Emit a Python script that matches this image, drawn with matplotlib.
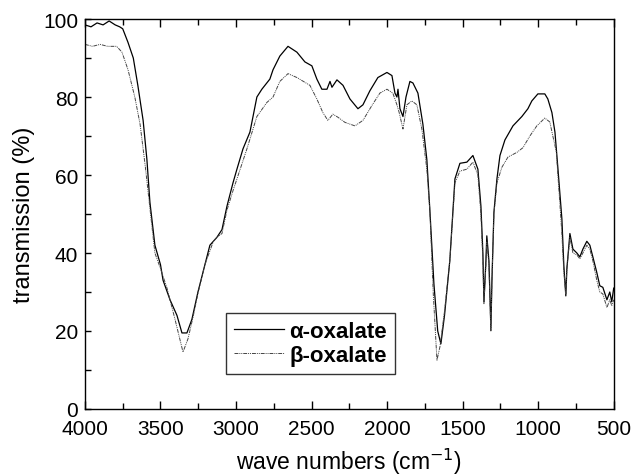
import matplotlib
matplotlib.use("Agg")
import matplotlib.pyplot as plt
from matplotlib.ticker import MultipleLocator

plt.rcParams['font.family'] = ['Liberation Sans', 'DejaVu Sans']

# alpha-oxalate (solid)
wn_a = [4000, 3960, 3920, 3880, 3840, 3800, 3770, 3750, 3715, 3680, 3650, 3615, 3590, 3570,
        3537, 3500, 3483, 3437, 3391, 3358, 3325, 3292, 3252, 3206, 3173, 3127, 3093, 3060,
        3020, 2994, 2954, 2908, 2862, 2829, 2776, 2755, 2710, 2656, 2597, 2544, 2498, 2465,
        2432, 2398, 2378, 2365, 2332, 2292, 2246, 2193, 2160, 2114, 2061, 2001, 1968, 1948,
        1935, 1928, 1915, 1895, 1875, 1849, 1829, 1796, 1763, 1737, 1717, 1690, 1665, 1644,
        1620, 1585, 1551, 1518, 1472, 1432, 1399, 1379, 1366, 1359, 1346, 1340, 1326, 1313,
        1306, 1293, 1273, 1253, 1220, 1167, 1108, 1068, 1042, 1002, 956, 936, 909, 889, 870,
        843, 830, 817, 810, 790, 770, 744, 724, 704, 678, 658, 638, 612, 592, 572, 545, 526,
        513, 500]
t_a = [98.5, 98, 99, 98.5, 99.5, 98.5, 98, 97.5, 94, 90, 83, 74, 64, 53,
       42, 37, 33, 28, 24, 19.5, 19.5, 23, 30, 37, 42, 44, 46, 52,
       58, 61.5, 66.7, 71, 80, 82, 84.6, 87, 90.5, 93, 91.5, 89, 88, 84.6,
       82, 82, 84, 82.5, 84.4, 83, 79.5, 77, 78, 81.6, 85, 86.3, 85.5, 81,
       80, 82, 77, 75, 80, 84, 83.6, 81, 73, 64, 51, 32, 20, 16.7,
       24, 38, 59, 63, 63.3, 65, 61.5, 52, 40, 27.4, 38, 44.4, 38, 20.5,
       33, 50.4, 59, 65, 69, 72.6, 75, 77, 79, 80.8, 80.8, 79.5, 76, 71, 62,
       48.7, 36.7, 29, 36, 45, 41, 40, 39, 41, 43, 42, 39, 35, 31.6, 31.2, 28, 30,
       27.5, 31]

# beta-oxalate (dash-dot)
wn_b = [4000, 3950, 3900, 3850, 3790, 3755, 3715, 3670, 3635, 3600, 3580, 3537, 3500, 3457,
        3404, 3351, 3318, 3285, 3250, 3206, 3150, 3127, 3093, 3060, 3020, 2994, 2928, 2862,
        2796, 2755, 2710, 2656, 2597, 2511, 2465, 2425, 2392, 2359, 2325, 2279, 2213, 2160,
        2101, 2048, 2001, 1962, 1935, 1920, 1895, 1869, 1836, 1803, 1770, 1737, 1717, 1695,
        1670, 1650, 1620, 1585, 1551, 1518, 1472, 1432, 1399, 1379, 1366, 1359, 1346, 1340,
        1326, 1313, 1306, 1293, 1273, 1240, 1200, 1141, 1101, 1055, 1009, 956, 923, 903, 880,
        857, 843, 830, 817, 810, 790, 770, 744, 724, 704, 678, 658, 638, 612, 592, 572, 545,
        526, 513, 500]
t_b = [93.5, 93, 93.5, 93, 93, 91.5, 87, 80, 73, 62, 55, 40, 36, 31,
       23, 14.6, 18, 23.5, 30, 37, 43, 44, 45, 51, 56, 59, 66.7, 75,
       78.6, 80, 84, 86, 85, 83, 79.5, 76, 74, 75.6, 74.8, 73.5, 72.6, 74,
       77.8, 81, 82, 81, 78, 76, 71.8, 78, 79, 78, 71.8, 61.5, 51, 30,
       12.5, 16, 25, 38, 58, 61, 61.5, 63.3, 60, 50, 38, 27, 37, 43,
       37, 20, 33, 50, 58, 62, 64.6, 65.8, 67, 70, 72.6, 74.6, 73.6, 70, 66,
       53, 45, 35, 29.5, 36, 44, 40, 39.5, 38.5, 40, 42, 41, 38, 33, 30, 29.5, 26,
       28, 26.5, 28]

fig = plt.figure(figsize=(6.34, 4.77), dpi=100)
ax = fig.add_axes([0.134, 0.1405, 0.834, 0.8175])

ax.plot(wn_a, t_a, color='black', lw=0.9, label='α-oxalate')
ax.plot(wn_b, t_b, color='#444444', lw=0.7, linestyle=(0, (4, 1, 1, 1, 1, 1)), label='β-oxalate')

ax.set_xlim(4000, 500)
ax.set_ylim(0, 100)
ax.xaxis.set_major_locator(MultipleLocator(500))
ax.xaxis.set_minor_locator(MultipleLocator(250))
ax.yaxis.set_major_locator(MultipleLocator(20))
ax.yaxis.set_minor_locator(MultipleLocator(10))
ax.tick_params(which='both', direction='in', top=True, right=False, labelsize=15, width=1)
ax.tick_params(which='major', length=6)
ax.tick_params(which='minor', length=4)
ax.tick_params(axis='y', which='both', length=4, pad=5)
ax.tick_params(axis='x', which='both', pad=7)
for s in ax.spines.values():
    s.set_linewidth(1.0)

ax.set_xlabel('wave numbers (cm$^{-1}$)', fontsize=16.5, labelpad=6)
ax.set_ylabel('transmission (%)', fontsize=17, labelpad=6)

leg = ax.legend(loc='lower left', bbox_to_anchor=(0.2665, 0.0897), borderaxespad=0,
                frameon=True, fancybox=False, edgecolor='black',
                prop={'weight': 'bold', 'size': 16}, handlelength=2.25,
                borderpad=0.35, labelspacing=0.15, handletextpad=0.25)
leg.get_frame().set_linewidth(1.0)

fig.savefig('out.png', dpi=100)
